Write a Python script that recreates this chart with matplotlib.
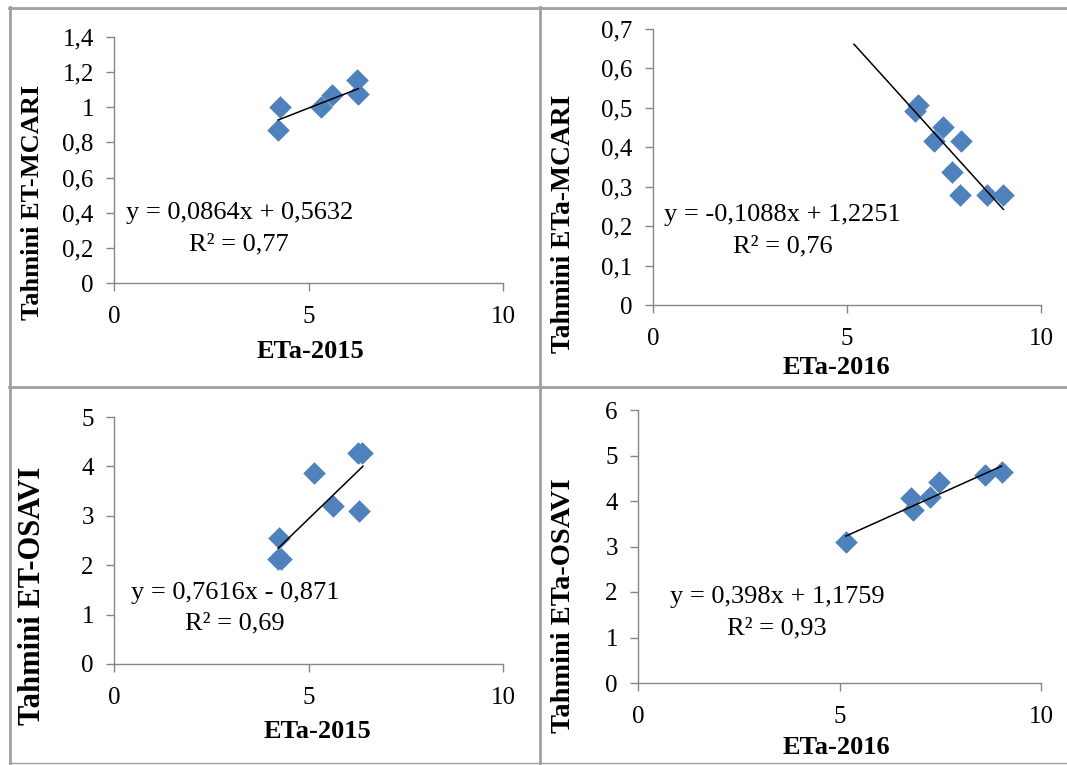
import matplotlib
matplotlib.use("Agg")
import matplotlib.pyplot as plt
import numpy as np

plt.rcParams['font.family'] = ['Liberation Serif', 'DejaVu Serif']

# ---- data ----
x_2015_mcari = [4.22, 4.27, 5.31, 5.61, 6.24, 6.28]
y_2015_mcari = [0.873, 1.00, 1.00, 1.07, 1.155, 1.075]
fit_2015_mcari = (0.0864, 0.5632)
eq_2015_mcari = ["y = 0,0864x + 0,5632", "R² = 0,77"]

x_2016_mcari = [6.75, 6.84, 7.48, 7.25, 7.95, 7.70, 7.91, 8.61, 9.03]
y_2016_mcari = [0.491, 0.508, 0.451, 0.415, 0.416, 0.337, 0.279, 0.279, 0.279]
fit_2016_mcari = (-0.1088, 1.2251)
fit_2016_mcari_range = (5.18, 9.03)
eq_2016_mcari = ["y = -0,1088x + 1,2251", "R² = 0,76"]

x_2015_osavi = [4.25, 4.22, 4.30, 5.15, 5.62, 6.29, 6.28, 6.37]
y_2015_osavi = [2.56, 2.12, 2.13, 3.86, 3.20, 3.10, 4.28, 4.28]
fit_2015_osavi = (0.7616, -0.871)
eq_2015_osavi = ["y = 0,7616x - 0,871", "R² = 0,69"]

x_2016_osavi = [5.16, 6.78, 6.82, 7.25, 7.47, 8.61, 9.02]
y_2016_osavi = [3.10, 4.06, 3.81, 4.08, 4.41, 4.57, 4.64]
fit_2016_osavi = (0.398, 1.1759)
eq_2016_osavi = ["y = 0,398x + 1,1759", "R² = 0,93"]

xticks = [0, 5, 10]
yticks_2015_mcari = [0, 0.2, 0.4, 0.6, 0.8, 1.0, 1.2, 1.4]
ytl_2015_mcari = ["0", "0,2", "0,4", "0,6", "0,8", "1", "1,2", "1,4"]
yticks_2016_mcari = [0, 0.1, 0.2, 0.3, 0.4, 0.5, 0.6, 0.7]
ytl_2016_mcari = ["0", "0,1", "0,2", "0,3", "0,4", "0,5", "0,6", "0,7"]
yticks_2015_osavi = [0, 1, 2, 3, 4, 5]
yticks_2016_osavi = [0, 1, 2, 3, 4, 5, 6]

W, H = 1067, 765
fig = plt.figure(figsize=(W / 100, H / 100), dpi=100)

BLUE = '#4F81BD'
GRAY = '#868686'


def make_ax(l, r, t, b):
    return fig.add_axes([l / W, 1 - b / H, (r - l) / W, (b - t) / H])


def style(ax, yt, ytl, ymax):
    ax.set_xlim(0, 10)
    ax.set_ylim(0, ymax)
    ax.set_xticks(xticks)
    ax.set_xticklabels([str(v) for v in xticks])
    ax.set_yticks(yt)
    ax.set_yticklabels(ytl)
    for s in ['top', 'right']:
        ax.spines[s].set_visible(False)
    for s in ['left', 'bottom']:
        ax.spines[s].set_color(GRAY)
        ax.spines[s].set_linewidth(1.0)
    ax.tick_params(direction='out', length=5.5, width=1.0, color=GRAY,
                   labelsize=18, labelcolor='black')
    ax.tick_params(axis='y', pad=9)
    ax.tick_params(axis='x', pad=11)
    ax.set_facecolor('none')


def draw(ax, xs, ys, fit, xr=None):
    ax.scatter(xs, ys, marker='D', s=11.5 ** 2, color=BLUE, zorder=3,
               linewidths=0)
    if xr is None:
        xr = (min(xs), max(xs))
    xl = np.array(xr)
    ax.plot(xl, fit[0] * xl + fit[1], color='black', lw=1.1, zorder=4)


def ftext(x, y, s, **kw):
    fig.text(x / W, 1 - y / H, s, ha='center', va='center', **kw)


# Panel 1
ax1 = make_ax(114, 503, 37, 283)
style(ax1, yticks_2015_mcari, ytl_2015_mcari, 1.4)
draw(ax1, x_2015_mcari, y_2015_mcari, fit_2015_mcari)
ftext(240, 213, eq_2015_mcari[0], fontsize=19)
ftext(239, 244, eq_2015_mcari[1], fontsize=19)
ftext(33, 202, "Tahmini ET-MCARI", fontsize=19, fontweight='bold', rotation=90)
ftext(310, 352, "ETa-2015", fontsize=19, fontweight='bold')

# Panel 2
ax2 = make_ax(653, 1041, 29, 305)
style(ax2, yticks_2016_mcari, ytl_2016_mcari, 0.7)
draw(ax2, x_2016_mcari, y_2016_mcari, fit_2016_mcari, fit_2016_mcari_range)
ftext(782, 215, eq_2016_mcari[0], fontsize=19)
ftext(783, 246, eq_2016_mcari[1], fontsize=19)
ftext(563, 224, "Tahmini ETa-MCARI", fontsize=19.8, fontweight='bold', rotation=90)
ftext(836, 367, "ETa-2016", fontsize=19, fontweight='bold')

# Panel 3
ax3 = make_ax(114, 503, 417, 664)
style(ax3, yticks_2015_osavi, [str(v) for v in yticks_2015_osavi], 5)
draw(ax3, x_2015_osavi, y_2015_osavi, fit_2015_osavi, (4.22, 6.40))
ftext(235, 593, eq_2015_osavi[0], fontsize=19)
ftext(235, 623, eq_2015_osavi[1], fontsize=19)
ftext(33, 596, "Tahmini ET-OSAVI", fontsize=22, fontweight='bold', rotation=90)
ftext(317, 732, "ETa-2015", fontsize=19, fontweight='bold')

# Panel 4
ax4 = make_ax(638, 1041, 410, 683)
style(ax4, yticks_2016_osavi, [str(v) for v in yticks_2016_osavi], 6)
draw(ax4, x_2016_osavi, y_2016_osavi, fit_2016_osavi)
ftext(777, 597, eq_2016_osavi[0], fontsize=19)
ftext(777, 628, eq_2016_osavi[1], fontsize=19)
ftext(563, 606, "Tahmini ETa-OSAVI", fontsize=20.5, fontweight='bold', rotation=90)
ftext(836, 747, "ETa-2016", fontsize=19, fontweight='bold')

# Panel frames
BORDER = '#A0A0A0'
def hline(y, x0, x1, lw=2):
    fig.add_artist(plt.Line2D([x0 / W, x1 / W], [1 - y / H, 1 - y / H],
                              color=BORDER, lw=lw, transform=fig.transFigure))
def vline(x, y0, y1, lw=2):
    fig.add_artist(plt.Line2D([x / W, x / W], [1 - y0 / H, 1 - y1 / H],
                              color=BORDER, lw=lw, transform=fig.transFigure))

hline(7.5, 9, 1067)
vline(9.5, 7, 765)
vline(540, 7, 765)
hline(386.5, 9, 1067)
hline(762.5, 9, 1067, lw=1)

fig.savefig("out.png", dpi=100)
